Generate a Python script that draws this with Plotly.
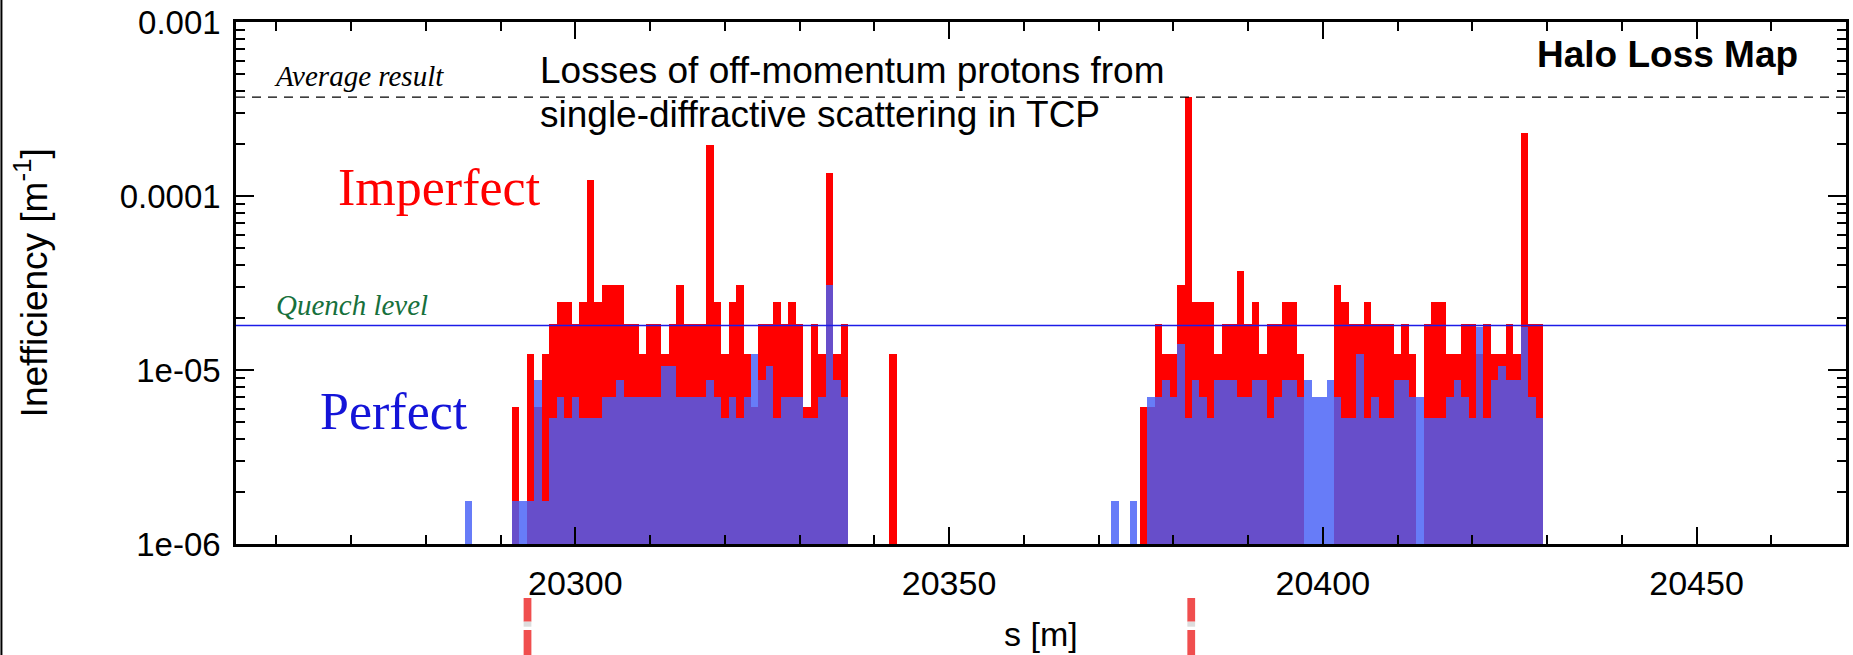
import plotly.graph_objects as go

# ---------------- data ----------------
# Imperfect machine: bin centre s [m] and inefficiency [1/m]
s_imperfect = [
    20292, 20294, 20295, 20296, 20297, 20298, 20299, 20300, 20301, 20302,
    20303, 20304, 20305, 20306, 20307, 20308, 20309, 20310, 20311, 20312,
    20313, 20314, 20315, 20316, 20317, 20318, 20319, 20320, 20321, 20322,
    20323, 20324, 20325, 20326, 20327, 20328, 20329, 20330, 20331, 20332,
    20333, 20334, 20335, 20336, 20342.5,
    20376, 20377, 20378, 20379, 20380, 20381, 20382, 20383, 20384, 20385,
    20386, 20387, 20388, 20389, 20390, 20391, 20392, 20393, 20394, 20395,
    20396, 20397, 20402, 20403, 20404, 20405, 20406, 20407, 20408, 20409,
    20410, 20411, 20412, 20414, 20415, 20416, 20417, 20418, 20419, 20420,
    20421, 20422, 20423, 20424, 20425, 20426, 20427, 20428, 20429,
]
ineff_imperfect = [
    6.15e-6, 1.23e-5, 6.15e-6, 1.23e-5, 1.85e-5, 2.46e-5, 2.46e-5, 1.85e-5, 2.46e-5, 1.23e-4,
    2.46e-5, 3.08e-5, 3.08e-5, 3.08e-5, 1.85e-5, 1.85e-5, 1.23e-5, 1.85e-5, 1.85e-5, 1.23e-5,
    1.85e-5, 3.08e-5, 1.85e-5, 1.85e-5, 1.85e-5, 1.97e-4, 2.46e-5, 1.23e-5, 2.46e-5, 3.08e-5,
    1.23e-5, 6.15e-6, 1.85e-5, 1.85e-5, 2.46e-5, 1.85e-5, 2.46e-5, 1.85e-5, 6.15e-6, 1.85e-5,
    1.23e-5, 1.35e-4, 1.23e-5, 1.85e-5, 1.23e-5,
    6.15e-6, 6.15e-6, 1.85e-5, 1.23e-5, 1.23e-5, 3.08e-5, 3.7e-4, 2.46e-5, 2.46e-5, 2.46e-5,
    1.23e-5, 1.85e-5, 1.85e-5, 3.7e-5, 1.85e-5, 2.46e-5, 1.23e-5, 1.85e-5, 1.85e-5, 2.46e-5,
    2.46e-5, 1.23e-5, 3.08e-5, 2.46e-5, 1.85e-5, 1.85e-5, 2.46e-5, 1.85e-5, 1.85e-5, 1.85e-5,
    1.23e-5, 1.85e-5, 1.23e-5, 1.85e-5, 2.46e-5, 2.46e-5, 1.23e-5, 1.23e-5, 1.85e-5, 1.85e-5,
    1.23e-5, 1.85e-5, 1.23e-5, 1.23e-5, 1.85e-5, 1.23e-5, 2.29e-4, 1.85e-5, 1.85e-5,
]

# Perfect machine
s_perfect = [
    20285.7, 20292, 20293, 20294, 20295, 20296, 20297, 20298, 20299, 20300,
    20301, 20302, 20303, 20304, 20305, 20306, 20307, 20308, 20309, 20310,
    20311, 20312, 20313, 20314, 20315, 20316, 20317, 20318, 20319, 20320,
    20321, 20322, 20323, 20324, 20325, 20326, 20327, 20328, 20329, 20330,
    20331, 20332, 20333, 20334, 20335, 20336,
    20372.2, 20374.7,
    20377, 20378, 20379, 20380, 20381, 20382, 20383, 20384, 20385, 20386,
    20387, 20388, 20389, 20390, 20391, 20392, 20393, 20394, 20395, 20396,
    20397, 20398, 20399, 20400, 20401, 20402, 20403, 20404, 20405, 20406,
    20407, 20408, 20409, 20410, 20411, 20412, 20413, 20414, 20415, 20416,
    20417, 20418, 20419, 20420, 20421, 20422, 20423, 20424, 20425, 20426,
    20427, 20428, 20429,
]
ineff_perfect = [
    1.76e-6, 1.76e-6, 1.76e-6, 1.76e-6, 8.8e-6, 1.76e-6, 5.3e-6, 7.0e-6, 5.3e-6, 7.0e-6,
    5.3e-6, 5.3e-6, 5.3e-6, 7.0e-6, 7.0e-6, 8.8e-6, 7.0e-6, 7.0e-6, 7.0e-6, 7.0e-6,
    7.0e-6, 1.05e-5, 1.05e-5, 7.0e-6, 7.0e-6, 7.0e-6, 7.0e-6, 8.8e-6, 7.0e-6, 5.3e-6,
    7.0e-6, 5.3e-6, 7.0e-6, 1.23e-5, 8.8e-6, 1.05e-5, 5.3e-6, 7.0e-6, 7.0e-6, 7.0e-6,
    5.3e-6, 5.3e-6, 7.0e-6, 3.1e-5, 8.8e-6, 7.0e-6,
    1.76e-6, 1.76e-6,
    7.0e-6, 7.0e-6, 8.8e-6, 7.0e-6, 1.41e-5, 5.3e-6, 8.8e-6, 7.0e-6, 5.3e-6, 8.8e-6,
    8.8e-6, 8.8e-6, 7.0e-6, 7.0e-6, 8.8e-6, 8.8e-6, 5.3e-6, 7.0e-6, 8.8e-6, 8.8e-6,
    7.0e-6, 8.8e-6, 7.0e-6, 7.0e-6, 8.8e-6, 7.0e-6, 5.3e-6, 5.3e-6, 1.23e-5, 5.3e-6,
    7.0e-6, 5.3e-6, 5.3e-6, 8.8e-6, 8.8e-6, 7.0e-6, 7.0e-6, 5.3e-6, 5.3e-6, 5.3e-6,
    7.0e-6, 8.8e-6, 7.0e-6, 5.3e-6, 1.77e-5, 5.3e-6, 8.8e-6, 1.05e-5, 8.8e-6, 8.8e-6,
    1.77e-5, 7.0e-6, 5.3e-6,
]

quench_level = 1.8e-5
average_result = 3.7e-4
tcp_marks_s = [20293.6, 20382.4]

x_range = [20254.6, 20470.0]
y_tickvals = [1e-6, 1e-5, 1e-4, 1e-3]
y_ticktext = ["1e-06", "1e-05", "0.0001", "0.001"]
x_tickvals = [20300, 20350, 20400, 20450]
x_ticktext = ["20300", "20350", "20400", "20450"]

# ---------------- geometry helpers ----------------
W, H = 1853, 655
ML, MR, MT, MB = 236, 4, 22, 111
PW, PH = W - ML - MR, H - MT - MB


def px(x):
    return (x - ML) / PW


def py(y):
    return (MT + PH - y) / PH


fig = go.Figure()

fig.add_trace(go.Bar(
    x=s_imperfect, y=ineff_imperfect, width=1.0,
    marker=dict(color="#ff0000", line=dict(width=0)),
    name="Imperfect", hoverinfo="x+y",
))
fig.add_trace(go.Bar(
    x=s_perfect, y=ineff_perfect, width=1.0,
    marker=dict(color="rgba(69,95,246,0.82)", line=dict(width=0)),
    name="Perfect", hoverinfo="x+y",
))
fig.add_trace(go.Scatter(
    x=x_range, y=[quench_level, quench_level], mode="lines",
    line=dict(color="#1c1ce8", width=1.5), hoverinfo="skip",
))
fig.add_trace(go.Scatter(
    x=x_range, y=[average_result, average_result], mode="lines",
    line=dict(color="black", width=1.3, dash="9px,7px"), hoverinfo="skip",
))

minor_y = [m * 10.0 ** e for e in (-6, -5, -4) for m in range(2, 10)]

fig.update_layout(
    width=W, height=H,
    margin=dict(l=ML, r=MR, t=MT, b=MB, pad=0),
    paper_bgcolor="white", plot_bgcolor="white",
    barmode="overlay", bargap=0, showlegend=False,
    font=dict(family="Liberation Sans", color="black"),
    xaxis=dict(
        range=x_range, showgrid=False, zeroline=False,
        showline=True, linecolor="black", linewidth=2.5, mirror="ticks",
        ticks="inside", ticklen=17, tickwidth=2, tickcolor="black",
        tickmode="array", tickvals=x_tickvals, ticktext=x_ticktext,
        tickfont=dict(size=34, family="Liberation Sans"),
        ticklabelstandoff=7,
        minor=dict(ticks="inside", ticklen=9, tickwidth=2, tickcolor="black",
                   dtick=10, tick0=20250, showgrid=False),
    ),
    yaxis=dict(
        type="log", range=[-6, -3], showgrid=False, zeroline=False,
        showline=True, linecolor="black", linewidth=2.5, mirror="ticks",
        ticks="inside", ticklen=18, tickwidth=2, tickcolor="black",
        tickmode="array", tickvals=y_tickvals, ticktext=y_ticktext,
        tickfont=dict(size=33, family="Liberation Sans"),
        ticklabelstandoff=6,
        minor=dict(ticks="inside", ticklen=9, tickwidth=2, tickcolor="black",
                   tickvals=minor_y, showgrid=False),
    ),
)

ann = []
ann.append(dict(text="<i>Average result</i>", x=px(272), y=py(76), xanchor="left", yanchor="middle",
                font=dict(family="Liberation Serif", size=29, color="black")))
ann.append(dict(text="<i>Quench level</i>", x=px(274), y=py(305), xanchor="left", yanchor="middle",
                font=dict(family="Liberation Serif", size=29, color="#17703c")))
ann.append(dict(text="Imperfect", x=px(336), y=py(187), xanchor="left", yanchor="middle",
                font=dict(family="Liberation Serif", size=52, color="#ff0000")))
ann.append(dict(text="Perfect", x=px(318), y=py(411), xanchor="left", yanchor="middle",
                font=dict(family="Liberation Serif", size=52, color="#1414d8")))
ann.append(dict(text="Losses of off-momentum protons from", x=px(539), y=py(70),
                xanchor="left", yanchor="middle",
                font=dict(family="Liberation Sans", size=37, color="black")))
ann.append(dict(text="single-diffractive scattering in TCP", x=px(539), y=py(114),
                xanchor="left", yanchor="middle",
                font=dict(family="Liberation Sans", size=37, color="black")))
ann.append(dict(text="<b>Halo Loss Map</b>", x=px(1803), y=py(55), xanchor="right", yanchor="middle",
                font=dict(family="Liberation Sans", size=37, color="black")))
ann.append(dict(text="s [m]", x=px(1042), y=py(634), xanchor="center", yanchor="middle",
                font=dict(family="Liberation Sans", size=34, color="black")))
ann.append(dict(text="Inefficiency [m<sup>-1</sup>]", x=px(31), y=py(283), xanchor="center",
                yanchor="middle", textangle=-90,
                font=dict(family="Liberation Sans", size=37, color="black")))
for a in ann:
    a.update(xref="paper", yref="paper", showarrow=False)
fig.update_layout(annotations=ann)

shapes = []
for s in tcp_marks_s:
    shapes.append(dict(type="rect", xref="x", yref="paper", x0=s - 0.52, x1=s + 0.52,
                       y0=py(621.7), y1=py(598), fillcolor="rgb(240,78,78)", line=dict(width=0)))
    shapes.append(dict(type="rect", xref="x", yref="paper", x0=s - 0.52, x1=s + 0.52,
                       y0=py(626.7), y1=py(621.7), fillcolor="#dddddd", line=dict(width=0)))
    shapes.append(dict(type="rect", xref="x", yref="paper", x0=s - 0.52, x1=s + 0.52,
                       y0=py(655), y1=py(630), fillcolor="rgb(240,78,78)", line=dict(width=0)))
shapes.append(dict(type="line", xref="paper", yref="paper", x0=px(1), x1=px(1),
                   y0=py(0), y1=py(655), line=dict(color="black", width=2)))
fig.update_layout(shapes=shapes)

fig.write_html("out.html")
